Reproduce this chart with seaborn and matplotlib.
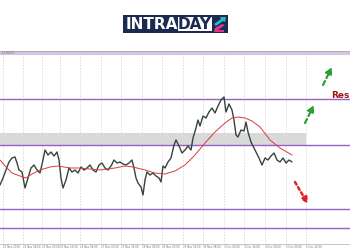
import matplotlib
matplotlib.use("Agg")
import matplotlib.pyplot as plt
import seaborn as sns
import pandas as pd
from matplotlib.patches import Rectangle, Polygon

# ---- data ----
bar_index = [0, 3, 6, 9, 12, 15, 17, 19, 22, 25, 28, 31, 34, 37, 40, 43, 45, 48, 51, 54,
             57, 59, 61, 63, 66, 69, 72, 75, 78, 81, 84, 87, 90, 93, 96, 99, 102, 105, 108, 111,
             114, 117, 120, 123, 126, 129, 132, 134, 136, 138, 141, 143, 145, 147, 150, 153, 156, 159, 161, 163,
             165, 168, 171, 174, 176, 179, 182, 185, 188, 191, 193, 196, 198, 200, 203, 206, 209, 212, 215, 218,
             221, 224, 226, 229, 232, 234, 236, 238, 241, 244, 246, 248, 251, 253, 256, 259, 262, 265, 268, 271,
             274, 277, 280, 283, 286, 289, 292]
price = [1.2295, 1.2330, 1.2370, 1.2410, 1.2430, 1.2435, 1.2405, 1.2370, 1.2360, 1.2280,
         1.2330, 1.2380, 1.2395, 1.2370, 1.2355, 1.2420, 1.2470, 1.2445, 1.2460, 1.2440,
         1.2460, 1.2420, 1.2330, 1.2280, 1.2320, 1.2380, 1.2360, 1.2370, 1.2355, 1.2385,
         1.2370, 1.2380, 1.2395, 1.2370, 1.2360, 1.2395, 1.2405, 1.2380, 1.2370, 1.2390,
         1.2420, 1.2405, 1.2410, 1.2400, 1.2395, 1.2405, 1.2420, 1.2380, 1.2330, 1.2305,
         1.2285, 1.2245, 1.2320, 1.2360, 1.2345, 1.2355, 1.2340, 1.2330, 1.2310, 1.2390,
         1.2380, 1.2410, 1.2430, 1.2495, 1.2520, 1.2490, 1.2455, 1.2470, 1.2490, 1.2470,
         1.2530, 1.2580, 1.2620, 1.2590, 1.2640, 1.2630, 1.2660, 1.2680, 1.2655, 1.2690,
         1.2720, 1.2735, 1.2660, 1.2700, 1.2670, 1.2620, 1.2545, 1.2535, 1.2570, 1.2565,
         1.2610, 1.2560, 1.2510, 1.2490, 1.2460, 1.2430, 1.2395, 1.2430, 1.2420, 1.2440,
         1.2455, 1.2420, 1.2410, 1.2430, 1.2405, 1.2420, 1.2410]

ma_index = [0, 6, 12, 20, 26, 32, 40, 50, 58, 70, 80, 90, 100, 115, 125, 133, 145, 155, 165, 175,
            185, 195, 205, 215, 225, 232, 238, 245, 252, 260, 270, 280, 292]
ma_value = [1.2420, 1.2385, 1.2355, 1.2340, 1.2330, 1.2350, 1.2370, 1.2385, 1.2390, 1.2380,
            1.2380, 1.2375, 1.2370, 1.2380, 1.2390, 1.2385, 1.2370, 1.2355, 1.2350, 1.2365,
            1.2395, 1.2445, 1.2505, 1.2560, 1.2605, 1.2630, 1.2635, 1.2630, 1.2615, 1.2585,
            1.2520, 1.2480, 1.2445]

top_level = 1.2955
levels = [1.2725, 1.2495, 1.2175, 1.2080]
zone_low, zone_high = 1.2495, 1.2555

tick_pos = [3, 23, 42, 60, 80, 101, 121, 142, 162, 183, 203, 224, 244, 265, 286, 306]
tick_labels = ["21 Nov 2018", "22 Nov 08:00", "23 Nov 00:00", "23 Nov 16:00", "26 Nov 08:00",
               "27 Nov 00:00", "27 Nov 16:00", "28 Nov 08:00", "29 Nov 00:00", "29 Nov 16:00",
               "30 Nov 08:00", "3 Dec 00:00", "3 Dec 16:00", "4 Dec 08:00", "5 Dec 00:00", "5 Dec 16:00"]

sns.set_theme(style="white")
plt.rcParams['font.family'] = ['DejaVu Sans']

fig = plt.figure(figsize=(3.5, 2.5), dpi=100)
ax = fig.add_axes([0, 0.024, 1, 0.772])
ax.set_xlim(0, 350)
ax.set_ylim(1.2000, 1.2965)

# grid
ax.set_xticks(tick_pos)
ax.set_xticklabels(tick_labels, fontsize=1.9, color="#777777", ha="left")
ax.tick_params(axis="x", length=0, pad=0.8)
ax.set_yticks([])
ax.xaxis.grid(True, linestyle=(0, (2, 2)), color="#cfcfcf", linewidth=0.5)
for s in ["left", "right"]:
    ax.spines[s].set_visible(False)
ax.spines["top"].set_color("#aaaaaa")
ax.spines["top"].set_linewidth(0.6)
ax.spines["bottom"].set_color("#bbbbbb")
ax.spines["bottom"].set_linewidth(0.6)

# zone and levels
ax.fill_between([0, 306], zone_low, zone_high, color="#d9d9d9", linewidth=0, zorder=1)
ax.axhline(top_level, color="#d6c6e2", linewidth=3, zorder=2)
for lv in levels:
    ax.axhline(lv, color="#9b5fbf", linewidth=1.0, zorder=2)
ax.text(1, top_level, "1.29550", fontsize=2.5, color="#777777", va="center", ha="left")

# series
df = pd.DataFrame({"t": bar_index, "p": price})
dm = pd.DataFrame({"t": ma_index, "m": ma_value})
sns.lineplot(data=df, x="t", y="p", ax=ax, color="#35453a", linewidth=1.0, zorder=4)
sns.lineplot(data=dm, x="t", y="m", ax=ax, color="#d83c3c", linewidth=0.7, zorder=5)
ax.set_xlabel("")
ax.set_ylabel("")

# arrows
green = "#2f9e35"
for (x0, y0, x1, y1) in [(305, 1.2605, 314, 1.2695), (323, 1.2795, 332, 1.2885)]:
    ax.annotate("", xy=(x1, y1), xytext=(x0, y0),
                arrowprops=dict(arrowstyle="-|>,head_width=0.15,head_length=0.3", color=green,
                                linewidth=1.6, linestyle=(0, (2, 1.5)), shrinkA=0, shrinkB=0))
ax.annotate("", xy=(308, 1.2200), xytext=(295, 1.2310),
            arrowprops=dict(arrowstyle="-|>,head_width=0.15,head_length=0.3", color="#e0202a",
                            linewidth=1.8, linestyle=(0, (1.2, 1.2)), shrinkA=0, shrinkB=0))

ax.text(350, 1.2745, "Res", fontsize=6.5, color="#a01414", fontweight="bold",
        va="center", ha="right", clip_on=False)

# logo
navy = "#1b2a50"
fig.add_artist(Rectangle((123 / 350, 1 - 33 / 250), 105 / 350, 18 / 250,
                         transform=fig.transFigure, facecolor=navy, edgecolor="none"))
fig.add_artist(Rectangle((178 / 350, 1 - 31 / 250), 34 / 350, 14 / 250,
                         transform=fig.transFigure, facecolor="white", edgecolor="none"))
fig.text(151.5 / 350, 1 - 24.5 / 250, "INTRA", color="white", fontsize=11, fontweight="bold",
         ha="center", va="center")
fig.text(195 / 350, 1 - 24.5 / 250, "DAY", color=navy, fontsize=11, fontweight="bold",
         ha="center", va="center")
def P(pts, c):
    fig.add_artist(Polygon([(x / 350, 1 - y / 250) for x, y in pts], closed=True,
                           transform=fig.transFigure, facecolor=c, edgecolor="none"))
P([(214, 24), (221, 19), (220, 17), (226, 17), (225, 22), (223, 21), (216, 26)], "#27b6c9")
P([(215, 28), (222, 24), (225, 25), (218, 30), (224, 30), (224, 32), (214, 32)], "#e1358f")

fig.savefig("out.png", dpi=100)
